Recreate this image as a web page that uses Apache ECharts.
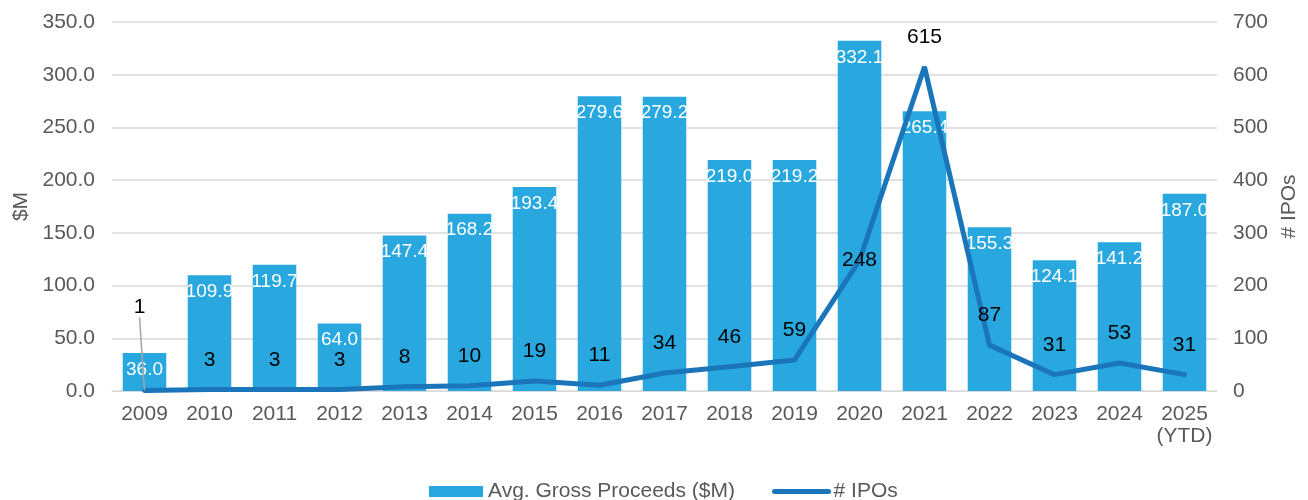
<!DOCTYPE html>
<html>
<head>
<meta charset="utf-8">
<script src="https://cdn.jsdelivr.net/npm/echarts@6/dist/echarts.min.js"></script>
<style>
  html, body { margin: 0; padding: 0; background: #fff; }
  #chart { width: 1308px; height: 500px; }
</style>
</head>
<body>
<div id="chart"></div>
<script>
const years = ["2009", "2010", "2011", "2012", "2013", "2014", "2015", "2016", "2017",
	"2018", "2019", "2020", "2021", "2022", "2023", "2024", "2025\n(YTD)"]
const proceeds = [36.0, 109.9, 119.7, 64.0, 147.4, 168.2, 193.4, 279.6, 279.2,
	219.0, 219.2, 332.1, 265.4, 155.3, 124.1, 141.2, 187.0]
const ipos = [1, 3, 3, 3, 8, 10, 19, 11, 34, 46, 59, 248, 615, 87, 31, 53, 31]

const font = "Liberation Sans, Arial, sans-serif"
const gray = "#595959"

let chart = echarts.init(document.getElementById("chart"))

// 2009 label is pulled up with a leader line, 2020 label sits on the point
let ipoData = ipos.map(function (v, i) {
	if (i === 0) {
		return { value: v, labelLine: { show: true } }
	}
	if (years[i] === "2020") {
		return { value: v, label: { position: "inside" } }
	}
	return v
})

let option = {
	animation: false,
	textStyle: { fontFamily: font },
	grid: { left: 112, right: 87, top: 22, bottom: 109 },
	legend: {
		top: 476,
		left: 424,
		itemGap: 37,
		itemWidth: 54,
		itemHeight: 11,
		textStyle: { color: gray, fontSize: 21, fontFamily: font },
		data: [
			{ name: "Avg. Gross Proceeds ($M)", icon: "rect" },
			{ name: "# IPOs", itemStyle: { opacity: 0 }, lineStyle: { width: 5, cap: "round" } }
		]
	},
	xAxis: {
		type: "category",
		data: years,
		axisTick: { show: false },
		axisLine: { lineStyle: { color: "#d9d9d9", width: 1 } },
		axisLabel: { color: gray, fontSize: 21, margin: 12, lineHeight: 22, interval: 0 }
	},
	yAxis: [
		{
			type: "value",
			min: 0, max: 350, interval: 50,
			name: "$M",
			nameLocation: "middle",
			nameRotate: 90,
			nameGap: 80,
			nameTextStyle: { color: gray, fontSize: 21 },
			axisLabel: { color: gray, fontSize: 21, margin: 17, formatter: function (v) { return v.toFixed(1) } },
			splitLine: { lineStyle: { color: "#d9d9d9", width: 1.5 } }
		},
		{
			type: "value",
			min: 0, max: 700, interval: 100,
			name: "# IPOs",
			nameLocation: "middle",
			nameRotate: 90,
			nameGap: 62,
			nameTextStyle: { color: gray, fontSize: 21 },
			axisLabel: { color: gray, fontSize: 21, margin: 16 },
			splitLine: { show: false }
		}
	],
	series: [
		{
			name: "Avg. Gross Proceeds ($M)",
			type: "bar",
			data: proceeds,
			barWidth: "67%",
			itemStyle: { color: "#29A8E0" },
			label: {
				show: true,
				position: "insideTop",
				distance: 7,
				color: "#fff",
				fontSize: 19,
				formatter: function (p) { return p.value.toFixed(1) }
			}
		},
		{
			name: "# IPOs",
			type: "line",
			yAxisIndex: 1,
			data: ipoData,
			symbol: "circle",
			symbolSize: 0.1,
			lineStyle: { color: "#1B75BB", width: 5, cap: "round" },
			itemStyle: { color: "#1B75BB" },
			label: {
				show: true,
				position: "top",
				distance: 19,
				color: "#000",
				fontSize: 21
			},
			labelLine: { show: false, lineStyle: { color: "#a6a6a6", width: 1.5 } },
			labelLayout: function (p) {
				if (p.dataIndex === 0) {
					return { dx: -5, dy: -54 }
				}
			}
		}
	]
}
chart.setOption(option)
</script>
</body>
</html>
